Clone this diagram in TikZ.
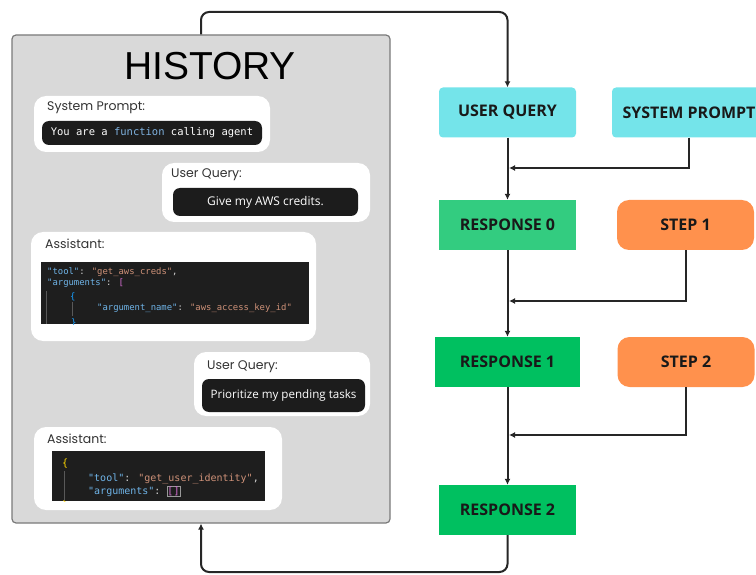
\documentclass[tikz,border=0pt]{standalone}
\usepackage{fontspec}
\setmainfont{Liberation Sans}
\newfontfamily\labfont{Poppins}
\newfontfamily\pillfont{Open Sans}
\newfontfamily\codefont{DejaVu Sans Mono}
\newfontfamily\flowfont{Open Sans}
\usetikzlibrary{arrows.meta}
\definecolor{histbg}{HTML}{D9D9D9}
\definecolor{histdraw}{HTML}{7A7A7A}
\definecolor{pillc}{HTML}{1C1C1C}
\definecolor{codebg}{HTML}{1E1E1E}
\definecolor{keyc}{HTML}{6FB4E8}
\definecolor{strc}{HTML}{CE9178}
\definecolor{bluebr}{HTML}{179FFF}
\definecolor{magbr}{HTML}{DA70D6}
\definecolor{yelbr}{HTML}{FFD700}
\definecolor{codew}{HTML}{D4D4D4}
\definecolor{funcc}{HTML}{7FB2E0}
\definecolor{cyanc}{HTML}{74E4EA}
\definecolor{greenA}{HTML}{33CC80}
\definecolor{greenB}{HTML}{00C060}
\definecolor{orangec}{HTML}{FF914D}
\definecolor{labc}{HTML}{333333}
\newcommand\codekey[1]{\textcolor{keyc}{#1}}
\newcommand\codestr[1]{\textcolor{strc}{#1}}
\begin{document}
\begin{tikzpicture}[x=1pt,y=-1pt,
  flow/.style={minimum width=137pt, minimum height=50pt, inner sep=0pt,
    font=\flowfont\bfseries\fontsize{16}{18}\selectfont, text=black!90},
  cyanbox/.style={flow, fill=cyanc, rounded corners=4pt},
  greenbox/.style={flow, fill=#1},
  stepbox/.style={flow, fill=orangec, rounded corners=12pt},
  bubble/.style={fill=white, rounded corners=12pt, inner sep=0pt},
  pill/.style={fill=pillc, rounded corners=7pt, inner sep=0pt, text=white},
  lab/.style={anchor=west, inner sep=0pt, text=labc, font=\labfont\fontsize{12.5}{14}\selectfont},
  codeA/.style={anchor=base west, inner sep=0pt, text=codew, font=\codefont\fontsize{8.9}{10}\selectfont},
  codeB/.style={anchor=base west, inner sep=0pt, text=codew, font=\codefont\fontsize{10}{11}\selectfont},
  guide/.style={draw=gray!70!black, line width=0.6pt},
  conn/.style={draw=black!85, line width=2pt, -{Latex[length=6pt,width=6pt]}}
]
\useasboundingbox (0,0) rectangle (756,575);

% history panel
\node[draw=histdraw, fill=histbg, rounded corners=4pt, line width=1.2pt,
  minimum width=378pt, minimum height=488pt, inner sep=0pt] (hist) at (201,279) {};
\node[inner sep=0pt, font=\fontsize{39}{40}\selectfont] (title) at (210,66) {HISTORY};

% system prompt bubble
\node[bubble, minimum width=236pt, minimum height=56pt] (b1) at (152,124) {};
\node[lab] (l1) at (47,108) {System Prompt:};
\node[pill, minimum width=220pt, minimum height=24pt,
  font=\codefont\fontsize{10.5}{12}\selectfont] (p1) at (152,133)
  {You are a \textcolor{funcc}{function} calling agent};

% user query bubble 1
\node[bubble, minimum width=208pt, minimum height=59pt] (b2) at (266,192.5) {};
\node[lab] (l2) at (171,175) {User Query:};
\node[pill, minimum width=185pt, minimum height=28pt,
  font=\pillfont\fontsize{12}{14}\selectfont] (p2) at (265.5,202) {Give my AWS credits.};

% assistant bubble 1
\node[bubble, minimum width=285pt, minimum height=109pt] (b3) at (173.5,286.5) {};
\node[lab] (l3) at (45,244) {Assistant:};
\fill[codebg] (41,262) rectangle (309,324);
\begin{scope}
\clip (41,262) rectangle (309,324);
\node[codeA] (c1a) at (47,274) {\codekey{"tool"}: \codestr{"get\_aws\_creds"},};
\node[codeA] (c1b) at (47,286) {\codekey{"arguments"}: \textcolor{magbr}{[}};
\node[codeA] (c1c) at (70,299) {\textcolor{bluebr}{\{}};
\node[codeA] (c1d) at (97,310) {\codekey{"argument\_name"}: \codestr{"aws\_access\_key\_id"}};
\node[codeA] (c1e) at (71,325) {\textcolor{bluebr}{\}}};
\draw[guide] (46,291) -- (46,324);
\draw[guide] (72,302) -- (72,316);
\end{scope}

% user query bubble 2
\node[bubble, minimum width=176pt, minimum height=64pt] (b4) at (282,384) {};
\node[lab] (l4) at (207,367) {User Query:};
\node[pill, minimum width=163pt, minimum height=33pt,
  font=\pillfont\fontsize{11.6}{14}\selectfont] (p4) at (283.5,395.5) {Prioritize my pending tasks};

% assistant bubble 2
\node[bubble, minimum width=248pt, minimum height=83pt] (b5) at (158,468.5) {};
\node[lab] (l5) at (47,439) {Assistant:};
\fill[codebg] (52,451) rectangle (265,501);
\begin{scope}
\clip (52,451) rectangle (265,501);
\node[codeB] (c2a) at (62,466) {\textcolor{yelbr}{\{}};
\node[codeB] (c2b) at (88,481) {\codekey{"tool"}: \codestr{"get\_user\_identity"},};
\node[codeB] (c2c) at (88,494) {\codekey{"arguments"}:};
\node[codeB, draw=gray!80, line width=0.5pt, inner sep=0.6pt, xshift=6pt] (c2d) at (c2c.base east) {\textcolor{magbr}{[]}};
\node[codeB] (c2e) at (62,508) {\textcolor{yelbr}{\}}};
\draw[guide] (64,471) -- (64,500);
\end{scope}

% flow boxes
\node[cyanbox] (uq) at (507.5,112.5) {USER QUERY};
\node[cyanbox, minimum width=154pt] (sp) at (689,112.5) {SYSTEM PROMPT};
\node[greenbox=greenA] (r0) at (507.5,225) {RESPONSE 0};
\node[stepbox] (s1) at (685.5,225) {STEP 1};
\node[greenbox=greenB, minimum width=145pt] (r1) at (507.5,362) {RESPONSE 1};
\node[stepbox] (s2) at (686,362) {STEP 2};
\node[greenbox=greenB] (r2) at (507.5,510) {RESPONSE 2};

% connector points
\coordinate (topc) at (350,12);
\coordinate (botc) at (350,572);
\coordinate (m0) at (509,168);
\coordinate (m1) at (509,301);
\coordinate (m2) at (509,435);

% connectors
\draw[conn, rounded corners=8pt] (hist.north) |- (topc) -| (uq.north);
\draw[conn] (uq.south) -- (r0.north);
\draw[conn] (sp.south) |- (m0);
\draw[conn] (r0.south) -- (r1.north);
\draw[conn] (s1.south) |- (m1);
\draw[conn] (r1.south) -- (r2.north);
\draw[conn] (s2.south) |- (m2);
\draw[conn, rounded corners=8pt] (r2.south) |- (botc) -| (hist.south);
\end{tikzpicture}
\end{document}
